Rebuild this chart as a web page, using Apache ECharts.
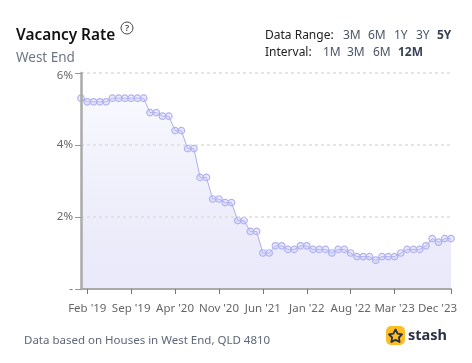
<!DOCTYPE html>
<html>
<head>
<meta charset="utf-8">
<style>
  html, body { margin: 0; padding: 0; background: #fff; }
  #chart { width: 472px; height: 363px; }
</style>
<script src="https://cdn.jsdelivr.net/npm/echarts@6/dist/echarts.min.js"></script>
</head>
<body>
<div id="chart"></div>
<script>
const months = [
  "Jan '19", "Feb '19", "Mar '19", "Apr '19", "May '19", "Jun '19", "Jul '19", "Aug '19", "Sep '19", "Oct '19", "Nov '19", "Dec '19",
  "Jan '20", "Feb '20", "Mar '20", "Apr '20", "May '20", "Jun '20", "Jul '20", "Aug '20", "Sep '20", "Oct '20", "Nov '20", "Dec '20",
  "Jan '21", "Feb '21", "Mar '21", "Apr '21", "May '21", "Jun '21", "Jul '21", "Aug '21", "Sep '21", "Oct '21", "Nov '21", "Dec '21",
  "Jan '22", "Feb '22", "Mar '22", "Apr '22", "May '22", "Jun '22", "Jul '22", "Aug '22", "Sep '22", "Oct '22", "Nov '22", "Dec '22",
  "Jan '23", "Feb '23", "Mar '23", "Apr '23", "May '23", "Jun '23", "Jul '23", "Aug '23", "Sep '23", "Oct '23", "Nov '23", "Dec '23"
]
const vacancy = [
  5.3, 5.2, 5.2, 5.2, 5.2, 5.3, 5.3, 5.3, 5.3, 5.3, 5.3, 4.9,
  4.9, 4.8, 4.8, 4.4, 4.4, 3.9, 3.9, 3.1, 3.1, 2.5, 2.5, 2.4,
  2.4, 1.9, 1.9, 1.6, 1.6, 1.0, 1.0, 1.2, 1.2, 1.1, 1.1, 1.2,
  1.2, 1.1, 1.1, 1.1, 1.0, 1.1, 1.1, 1.0, 0.9, 0.9, 0.9, 0.8,
  0.9, 0.9, 0.9, 1.0, 1.1, 1.1, 1.1, 1.2, 1.4, 1.3, 1.4, 1.4
]
const shownMonths = ["Feb '19", "Sep '19", "Apr '20", "Nov '20", "Jun '21", "Jan '22", "Aug '22", "Mar '23", "Dec '23"]

const font = '"Noto Sans", sans-serif'
const chart = echarts.init(document.getElementById('chart'), null, { renderer: 'canvas' })

const isShown = (i, name) => shownMonths.includes(name)

function label (x, y, text, color = '#4b5468', size = 12, weight = 400) {
  return {
    type: 'text',
    x,
    y,
    style: { text, fill: color, font: `${weight} ${size}px ${font}`, textVerticalAlign: 'middle' }
  }
}

chart.setOption({
  animation: false,
  backgroundColor: '#fff',
  textStyle: { fontFamily: font },
  grid: { left: 81, right: 21, top: 73, bottom: 74 },
  xAxis: {
    type: 'category',
    z: 3,
    data: months,
    boundaryGap: false,
    axisLine: { lineStyle: { color: '#aaa', width: 2 } },
    axisTick: { length: 5, interval: isShown, lineStyle: { color: '#777' } },
    axisLabel: {
      interval: isShown,
      margin: 14,
      fontSize: 11.5,
      color: '#666',
      fontFamily: font,
      hideOverlap: false,
      formatter: v => v === "Dec '23" ? `{last|${v}}` : v,
      rich: { last: { fontSize: 11.5, color: '#666', fontFamily: font, padding: [0, 27, 0, 0] } }
    }
  },
  yAxis: {
    type: 'value',
    z: 3,
    min: 0,
    max: 6,
    interval: 2,
    axisLine: { show: true, lineStyle: { color: '#aaa', width: 2.5 } },
    axisTick: { show: true, length: 6, lineStyle: { color: '#999' } },
    axisLabel: {
      margin: 8,
      fontSize: 11.5,
      color: '#666',
      fontFamily: font,
      formatter: v => v === 0 ? '-' : v === 6 ? `{top|${v}%}` : v + '%',
      rich: { top: { fontSize: 11.5, color: '#666', fontFamily: font, padding: [6, 0, 0, 0] } }
    },
    splitLine: { lineStyle: { color: '#ddd', type: [3, 3], width: 1.5 } }
  },
  series: [{
    type: 'line',
    z: 2,
    data: vacancy,
    symbol: 'circle',
    symbolSize: 6.5,
    showAllSymbol: true,
    lineStyle: { color: '#adadf0', width: 1 },
    itemStyle: { color: 'rgba(190,190,245,0.3)', borderColor: '#b0b0f2', borderWidth: 1.2 },
    areaStyle: {
      color: new echarts.graphic.LinearGradient(0, 0, 0, 1, [
        { offset: 0, color: '#f5f5fe' },
        { offset: 0.7, color: '#e3e3f9' },
        { offset: 1, color: '#e0e0f8' }
      ])
    }
  }],
  graphic: {
    elements: [
      label(16, 36, 'Vacancy Rate', '#111', 15.4, 600),
      label(16, 58, 'West End', '#6f7585', 13.5),
      { type: 'circle', shape: { cx: 127, cy: 28, r: 6 }, style: { fill: 'none', stroke: '#444', lineWidth: 1 } },
      { type: 'text', x: 127, y: 28, style: { text: '?', fill: '#444', font: `600 9px ${font}`, textAlign: 'center', textVerticalAlign: 'middle' } },

      label(265, 36, 'Data Range:', '#222'),
      label(343, 36, '3M'),
      label(368, 36, '6M'),
      label(394, 36, '1Y'),
      label(416, 36, '3Y'),
      label(437, 36, '5Y', '#3a4256', 12, 700),
      label(265, 53, 'Interval:', '#222'),
      label(323, 53, '1M'),
      label(347, 53, '3M'),
      label(373, 53, '6M'),
      label(398, 53, '12M', '#3a4256', 12, 700),

      label(24, 341, 'Data based on Houses in West End, QLD 4810', '#5e6678', 11.5),

      { type: 'rect', shape: { x: 386, y: 326, width: 19, height: 19, r: 5 }, style: { fill: '#fbbf24' } },
      {
        type: 'polygon',
        shape: { points: [[395.5, 329.5], [397.6, 333.6], [402, 334.3], [398.9, 337.5], [399.6, 342], [395.5, 339.9], [391.4, 342], [392.1, 337.5], [389, 334.3], [393.4, 333.6]] },
        style: { fill: 'none', stroke: '#2b3044', lineWidth: 1.8, lineJoin: 'round' }
      },
      label(408, 335.5, 'stash', '#2b3044', 14.5, 700)
    ]
  }
})
</script>
</body>
</html>
